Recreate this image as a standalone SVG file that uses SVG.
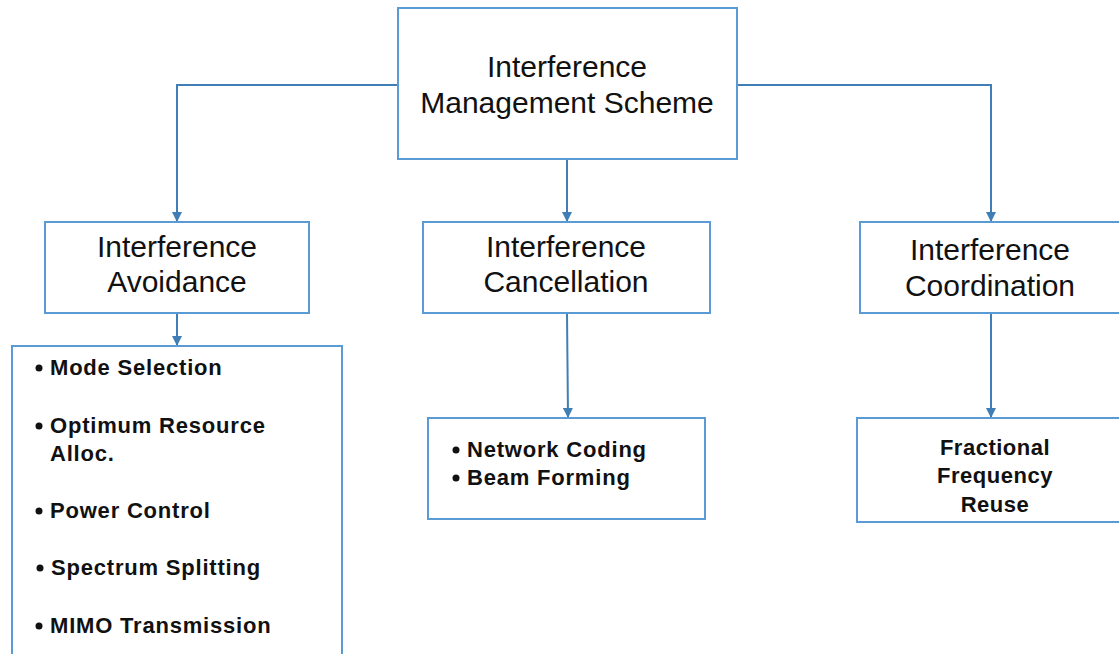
<svg xmlns="http://www.w3.org/2000/svg" width="1119" height="654" viewBox="0 0 1119 654">
<style>
.box{fill:#fff;stroke:#5B9BD5;stroke-width:2}
.conn{fill:none;stroke:#3F7FB5;stroke-width:2}
.t{font-family:"Liberation Sans",Arial,sans-serif;font-size:30px;fill:#111;text-anchor:middle}
.b{font-family:"Liberation Sans",Arial,sans-serif;font-size:22px;font-weight:bold;fill:#111;letter-spacing:0.8px}
.bc{text-anchor:middle;letter-spacing:0.5px}
.dot{fill:#111}
</style>
<defs>
<marker id="arr" markerWidth="10" markerHeight="10" refX="9" refY="5" orient="auto" markerUnits="userSpaceOnUse">
<path d="M0,0 L10,5 L0,10 Z" fill="#3F7FB5"/>
</marker>
</defs>
<rect width="1119" height="654" fill="#fff"/>
<g id="connectors">
<path class="conn" d="M398,85 H177 V221" marker-end="url(#arr)"/>
<path class="conn" d="M737,85 H991 V221" marker-end="url(#arr)"/>
<path class="conn" d="M567,159 V221" marker-end="url(#arr)"/>
<path class="conn" d="M177,313 V345" marker-end="url(#arr)"/>
<path class="conn" d="M567,313 L568,417" marker-end="url(#arr)"/>
<path class="conn" d="M991,313 V417" marker-end="url(#arr)"/>
</g>
<g id="root">
<rect class="box" x="398" y="8" width="339" height="151"/>
<text class="t" x="567" y="77">Interference</text>
<text class="t" x="567" y="113">Management Scheme</text>
</g>
<g id="avoidance">
<rect class="box" x="45" y="222" width="264" height="91"/>
<text class="t" x="177" y="257">Interference</text>
<text class="t" x="177" y="292">Avoidance</text>
</g>
<g id="cancellation">
<rect class="box" x="423" y="222" width="287" height="91"/>
<text class="t" x="566" y="257">Interference</text>
<text class="t" x="566" y="292">Cancellation</text>
</g>
<g id="coordination">
<rect class="box" x="860" y="222" width="262" height="91"/>
<text class="t" x="990" y="260">Interference</text>
<text class="t" x="990" y="296">Coordination</text>
</g>
<g id="avoidance-list">
<rect class="box" x="12" y="346" width="330" height="312"/>
<circle class="dot" cx="39" cy="368" r="3.5"/>
<text class="b" x="50" y="375">Mode Selection</text>
<circle class="dot" cx="39" cy="426" r="3.5"/>
<text class="b" x="50" y="433">Optimum Resource</text>
<text class="b" x="50" y="461">Alloc.</text>
<circle class="dot" cx="39" cy="511" r="3.5"/>
<text class="b" x="50" y="518">Power Control</text>
<circle class="dot" cx="40" cy="568" r="3.5"/>
<text class="b" x="51" y="575">Spectrum Splitting</text>
<circle class="dot" cx="39" cy="626" r="3.5"/>
<text class="b" x="50" y="633">MIMO Transmission</text>
</g>
<g id="cancellation-list">
<rect class="box" x="428" y="418" width="277" height="101"/>
<circle class="dot" cx="456" cy="450" r="3.5"/>
<text class="b" x="467" y="457">Network Coding</text>
<circle class="dot" cx="456" cy="478" r="3.5"/>
<text class="b" x="467" y="485">Beam Forming</text>
</g>
<g id="ffr">
<rect class="box" x="857" y="418" width="265" height="104"/>
<text class="b bc" x="995" y="455">Fractional</text>
<text class="b bc" x="995" y="483">Frequency</text>
<text class="b bc" x="995" y="512">Reuse</text>
</g>
</svg>
